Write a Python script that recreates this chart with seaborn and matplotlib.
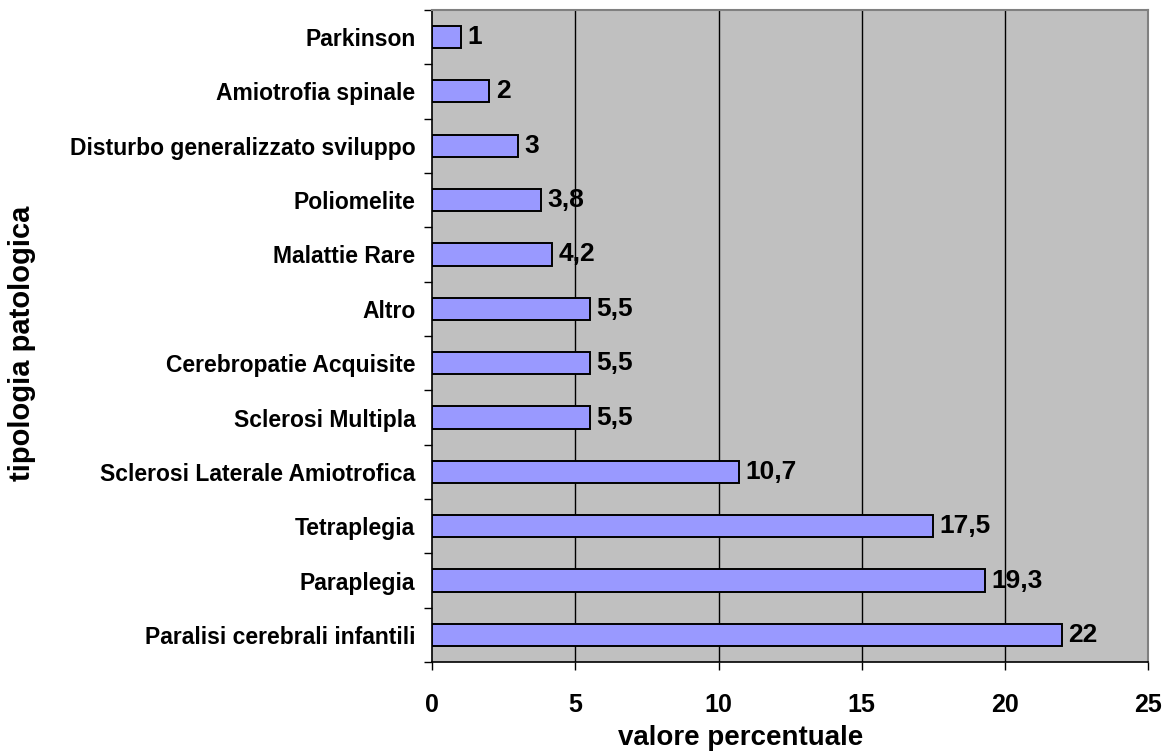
import pandas as pd
import matplotlib.pyplot as plt
import seaborn as sns

categorie = ['Parkinson', 'Amiotrofia spinale', 'Disturbo generalizzato sviluppo',
             'Poliomelite', 'Malattie Rare', 'Altro', 'Cerebropatie Acquisite',
             'Sclerosi Multipla', 'Sclerosi Laterale Amiotrofica', 'Tetraplegia',
             'Paraplegia', 'Paralisi cerebrali infantili']
valori = [1, 2, 3, 3.8, 4.2, 5.5, 5.5, 5.5, 10.7, 17.5, 19.3, 22]
etichette = ['1', '2', '3', '3,8', '4,2', '5,5', '5,5', '5,5', '10,7', '17,5', '19,3', '22']
xticks = [0, 5, 10, 15, 20, 25]

df = pd.DataFrame({'tipologia': categorie, 'valore': valori})

sns.set_style('white')
plt.rcParams['font.family'] = ['Liberation Sans', 'DejaVu Sans']
plt.rcParams['font.weight'] = 'bold'
plt.rcParams['text.color'] = 'black'
plt.rcParams['xtick.color'] = 'black'
plt.rcParams['ytick.color'] = 'black'
plt.rcParams['axes.labelcolor'] = 'black'

fig, ax = plt.subplots(figsize=(11.68, 7.55), dpi=100)
fig.subplots_adjust(left=0.37, right=0.983, top=0.987, bottom=0.123)
ax.set_facecolor('#C0C0C0')

sns.barplot(data=df, y='tipologia', x='valore', orient='h', color='#9999FF',
            edgecolor='black', linewidth=1.4, width=0.41, saturation=1, ax=ax, zorder=3)

# griglia verticale
for x in xticks[1:-1]:
    ax.axvline(x, color='black', linewidth=1, zorder=1)

# etichette dei valori
for i, (v, t) in enumerate(zip(valori, etichette)):
    ax.text(v + 0.22, i, t, va='center', ha='left', fontsize=19, fontweight='bold', zorder=4)

ax.set_xlim(0, 25)
ax.set_ylim(len(categorie) - 0.5, -0.5)
ax.set_xticks(xticks)
ax.set_xticklabels([str(x) for x in xticks], fontsize=18, fontweight='bold')
ax.set_yticks([i - 0.5 for i in range(len(categorie) + 1)], minor=False)
ax.set_yticklabels([])
ax.set_yticks(range(len(categorie)), minor=True)
ax.set_yticklabels(categorie, minor=True, fontsize=16.5, fontweight='bold')
ax.tick_params(axis='y', which='minor', length=0, pad=12)
ax.tick_params(axis='y', which='major', length=6, width=1, direction='out', left=True)
ax.tick_params(axis='x', length=6, width=1, direction='out', bottom=True, pad=16)

ax.set_xlabel('valore percentuale', fontsize=20, fontweight='bold')
ax.set_ylabel('tipologia patologica', fontsize=21, fontweight='bold')
ax.xaxis.set_label_coords(0.431, -0.117)
ax.yaxis.set_label_coords(-0.573, 0.489)
ax.xaxis.label.set_va('center')
ax.yaxis.label.set_va('center')

for s in ['left', 'bottom']:
    ax.spines[s].set_color('black')
    ax.spines[s].set_linewidth(1.2)
for s in ['top', 'right']:
    ax.spines[s].set_color('#808080')
    ax.spines[s].set_linewidth(1.5)

fig.savefig('out.png', dpi=100)
